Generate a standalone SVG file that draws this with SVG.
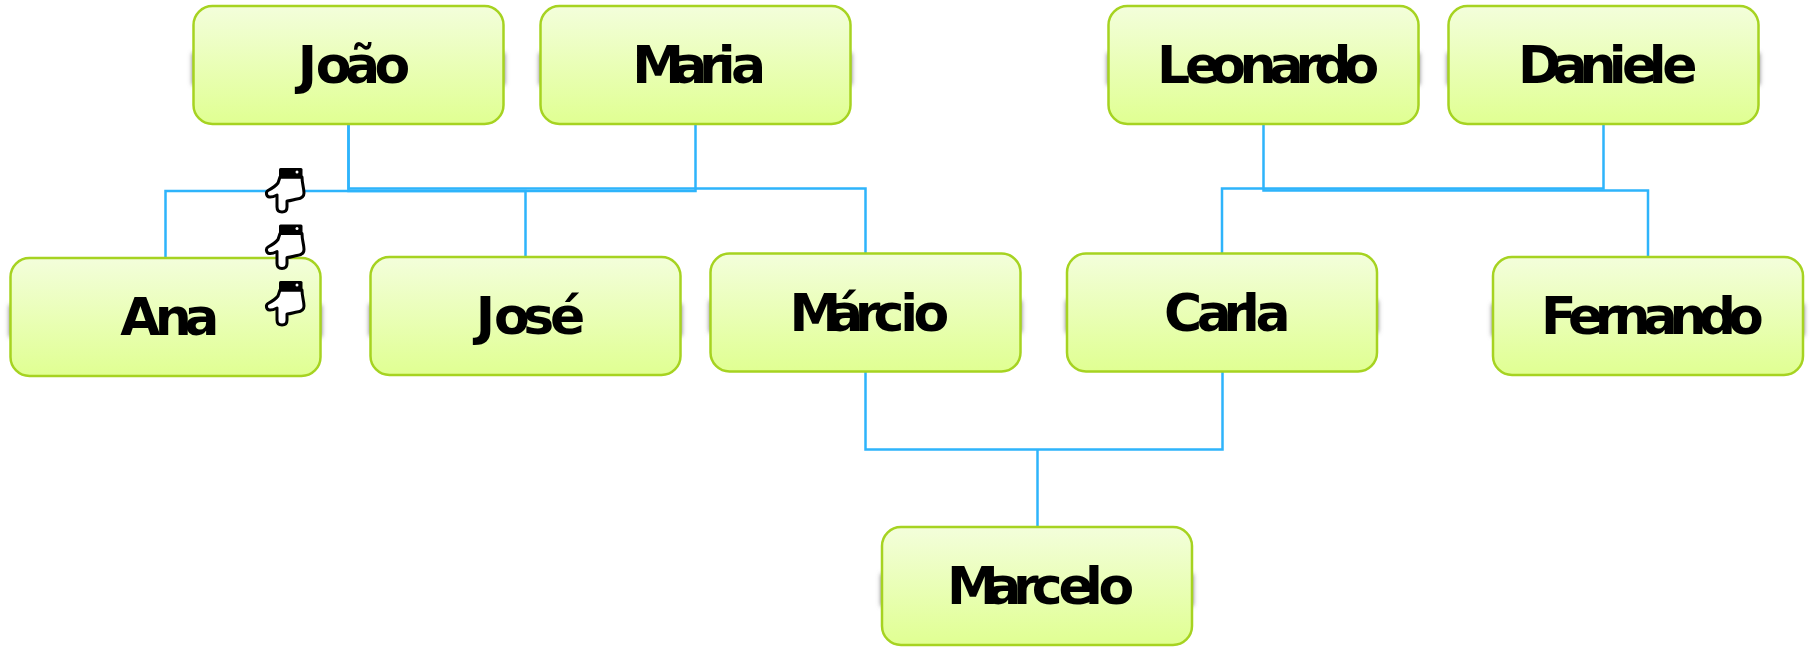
<svg xmlns="http://www.w3.org/2000/svg" width="1814" height="662" viewBox="0 0 1814 662">
<style>
.box{fill:url(#g);stroke:#a6d321;stroke-width:2.5}
.sh{fill:#777;filter:url(#b)}
.lbl{font-family:"DejaVu Sans",sans-serif;font-weight:bold;font-size:52px;fill:#000}
.c{fill:none;stroke:#2eb4fb;stroke-width:2.5}
</style>
<defs>
<linearGradient id="g" x1="0" y1="0" x2="0" y2="1"><stop offset="0" stop-color="#f3fedb"/><stop offset="1" stop-color="#e0ff92"/></linearGradient>
<filter id="b" x="-5%" y="-30%" width="110%" height="160%"><feGaussianBlur stdDeviation="2.5"/></filter>
<g id="node"><rect class="sh" x="-1" y="47" width="312" height="32"/><rect class="box" width="310" height="118" rx="19"/></g>
<g id="hand"><path d="M40 27L38 33C35 37 31 39 28 40.500C25.500 42 26 46.500 29.500 47C32 47.300 35 46 37 45L37 57C37 60.500 39 62 42 62C45 62 47 60.500 47 57L47 51C51 51 54 49.500 57 49C61 48.500 64 46.500 64 43C64 38 62 34 62 27Z" fill="#fff" stroke="#000" stroke-width="3" stroke-linejoin="round"/><rect x="39" y="18" width="23.500" height="10.500" rx="1.500" fill="#000"/><circle cx="57" cy="22" r="1.500" fill="#fff"/></g>
</defs>
<g id="connectors">
<path class="c" d="M165.500 258V191H695.500V124"/>
<path class="c" d="M525.500 257V191H348.500V124"/>
<path class="c" d="M865.500 253V188.500H348.500V124"/>
<path class="c" d="M1222 253V188.500H1603.500V124"/>
<path class="c" d="M1648 257V190.500H1263.500V124"/>
<path class="c" d="M865.500 371V449.500H1222.500V371"/>
<path class="c" d="M1037.500 449.500V527"/>
</g>
<g id="joao"><use href="#node" x="193.500" y="6"/><text class="lbl" y="83" x="297.700 315.800 345 374.500">João</text></g>
<g id="maria"><use href="#node" x="540.500" y="6"/><text class="lbl" y="83" x="632.300 672.300 699 717.700 731">Maria</text></g>
<g id="leonardo"><use href="#node" x="1108.500" y="6"/><text class="lbl" y="83" x="1157 1185 1210.200 1239.500 1268.800 1295.500 1314.200 1343.500">Leonardo</text></g>
<g id="daniele"><use href="#node" x="1448.500" y="6"/><text class="lbl" y="83" x="1518.100 1552.800 1579.500 1608.800 1622.100 1648.800 1662.200">Daniele</text></g>
<g id="ana"><use href="#node" x="10.500" y="258"/><text class="lbl" y="335" x="120.200 154.800 184.200">Ana</text></g>
<g id="jose"><use href="#node" x="370.500" y="257"/><text class="lbl" y="334" x="475.800 494 523.300 550">José</text></g>
<g id="marcio"><use href="#node" x="710.500" y="253.500"/><text class="lbl" y="330.500" x="789.600 828.100 854.800 873.500 900.200 913.500">Márcio</text></g>
<g id="carla"><use href="#node" x="1067" y="253.500"/><text class="lbl" y="330.500" x="1164 1196.700 1223.400 1242 1255.400">Carla</text></g>
<g id="fernando"><use href="#node" x="1493" y="257"/><text class="lbl" y="334" x="1541 1568 1594.700 1613.400 1642.700 1669.400 1698.700 1728">Fernando</text></g>
<g id="marcelo"><use href="#node" x="882" y="527"/><text class="lbl" y="604" x="947 986.300 1013 1031.700 1058.400 1085 1098.400">Marcelo</text></g>
<g id="pointers"><use href="#hand" x="240" y="150"/><use href="#hand" x="240" y="206.500"/><use href="#hand" x="240" y="263"/></g>
</svg>
